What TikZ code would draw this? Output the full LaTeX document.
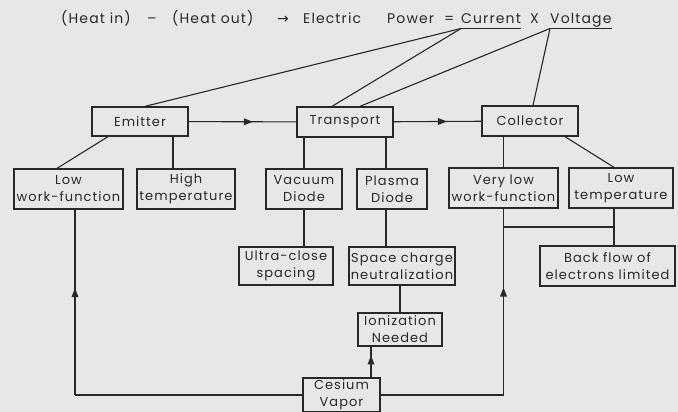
\documentclass[tikz,border=0pt]{standalone}
\usepackage{fontspec}
\setmainfont[LetterSpace=8]{Poppins}
\newfontfamily\symfont{DejaVu Sans}
\usetikzlibrary{arrows.meta,calc,decorations.markings}
\definecolor{paper}{RGB}{231,231,229}
\definecolor{ink}{RGB}{40,40,40}

\begin{document}
\begin{tikzpicture}[x=1pt, y=-1pt, >=Stealth,
  every node/.style={font=\fontsize{13}{17}\selectfont, text=ink},
  box/.style={draw=ink, line width=1.3pt, align=center, inner sep=1pt},
  dims/.style 2 args={minimum width=#1pt, minimum height=#2pt},
  headword/.style={anchor=base west, inner sep=0pt, font=\fontsize{14}{17}\selectfont},
  link/.style={draw=ink, line width=1.1pt},
  midarrow/.style={link, decoration={markings, mark=at position 0.55 with {\fill[ink] (5pt,0pt) -- (-4pt,3.5pt) -- (-4pt,-3.5pt) -- cycle;}}, postaction={decorate}}]
\fill[paper] (0,0) rectangle (678,412);
\useasboundingbox (0,0) rectangle (678,412);
% energy balance heading
\node[headword] (heatin) at (61,24) {(Heat in)};
\node[headword] (minus) at (147,24) {--};
\node[headword] (heatout) at (172,24) {(Heat out)};
\node[headword] (yields) at (277,24) {{\symfont →}};
\node[headword] (elec) at (303,24) {Electric};
\node[headword] (power) at (387,24) {Power};
\node[headword] (eq) at (444,24) {=};
\node[headword] (cur) at (461,24) {Current};
\node[headword] (times) at (530,24) {X};
\node[headword] (volt) at (550,24) {Voltage};
\coordinate (curfoot) at ([yshift=-4.5pt]cur.base west);
\coordinate (voltfoot) at ([yshift=-4.5pt]volt.base west);
\draw[link] (curfoot) -- ([yshift=-4.5pt]cur.base east);
\draw[link] (voltfoot) -- ([yshift=-4.5pt]volt.base east);
% main chain
\node[box, dims={96}{29}] (emit) at (140,121.5) {Emitter};
\node[box, dims={96}{30}] (trans) at (345,122) {Transport};
\node[box, dims={96}{30}] (coll) at (530,121) {Collector};
% requirements
\node[box, dims={109}{40}] (lowwf) at (68.5,189) {Low\\work-function};
\node[box, dims={98}{40}] (hight) at (186,189) {High\\temperature};
\node[box, dims={76}{40}] (vac) at (304,189) {Vacuum\\Diode};
\node[box, dims={70}{40}] (plasma) at (392,189) {Plasma\\Diode};
\node[box, dims={109}{40}] (vlowwf) at (503.5,188) {Very low\\work-function};
\node[box, dims={104}{40}] (lowt) at (621,188) {Low\\temperature};
\node[box, dims={94}{38}] (ultra) at (286,266) {Ultra-close\\spacing};
\node[box, dims={106}{38}] (space) at (402,266) {Space charge\\neutralization};
\node[box, dims={135}{40}] (backflow) at (607.5,266) {Back flow of\\electrons limited};
\node[box, dims={84}{33}] (ion) at (400,329.5) {Ionization\\Needed};
\node[box, dims={77}{34}] (cesium) at (341.5,395) {Cesium\\Vapor};
% heading to chain
\draw[link] (curfoot) -- ([xshift=5pt]emit.north);
\draw[link] (curfoot) -- ([xshift=-13pt]trans.north);
\draw[link] (voltfoot) -- ([xshift=15pt]trans.north);
\draw[link] (voltfoot) -- ([xshift=3pt]coll.north);
\draw[midarrow] (emit) -- (trans);
\draw[midarrow] (trans) -- (coll);
% chain to requirements
\draw[link] ([xshift=-32pt]emit.south) -- ([xshift=-11.5pt]lowwf.north);
\draw[link] ([xshift=33pt]emit.south) -- ([xshift=33pt]emit.south |- hight.north);
\draw[link] (vac.north |- trans.south) -- (vac.north);
\draw[link] ([xshift=-6pt]plasma.north |- trans.south) -- ([xshift=-6pt]plasma.north);
\draw[link] (vlowwf.north |- coll.south) -- (vlowwf.north);
\draw[link] ([xshift=35pt]coll.south) -- ([xshift=-7pt]lowt.north);
\draw[link] (vac.south) -- (vac.south |- ultra.north);
\draw[link] ([xshift=-6pt]plasma.south) -- ([xshift=-6pt]plasma.south |- space.north);
\draw[link] ([xshift=-7pt]lowt.south) -- ([xshift=-7pt]lowt.south |- backflow.north);
\coordinate (junc) at ($([xshift=-7pt]lowt.south)!0.5!([xshift=-7pt]lowt.south |- backflow.north)$);
\draw[link] (junc) -- (vlowwf.south |- junc);
\draw[link] (ion.north) -- (ion.north |- space.south);
% cesium feeds
\coordinate (lcorner) at ([xshift=6.5pt]lowwf.south |- cesium.west);
\coordinate (rcorner) at (vlowwf.south |- cesium.east);
\draw[link] (cesium.west) -- (lcorner);
\draw[midarrow] (lcorner) -- ([xshift=6.5pt]lowwf.south);
\draw[link] (cesium.east) -- (rcorner);
\draw[midarrow] (rcorner) -- (vlowwf.south);
\draw[midarrow] ([xshift=29.5pt]cesium.north) -- ([xshift=29.5pt]cesium.north |- ion.south);
\end{tikzpicture}
\end{document}
